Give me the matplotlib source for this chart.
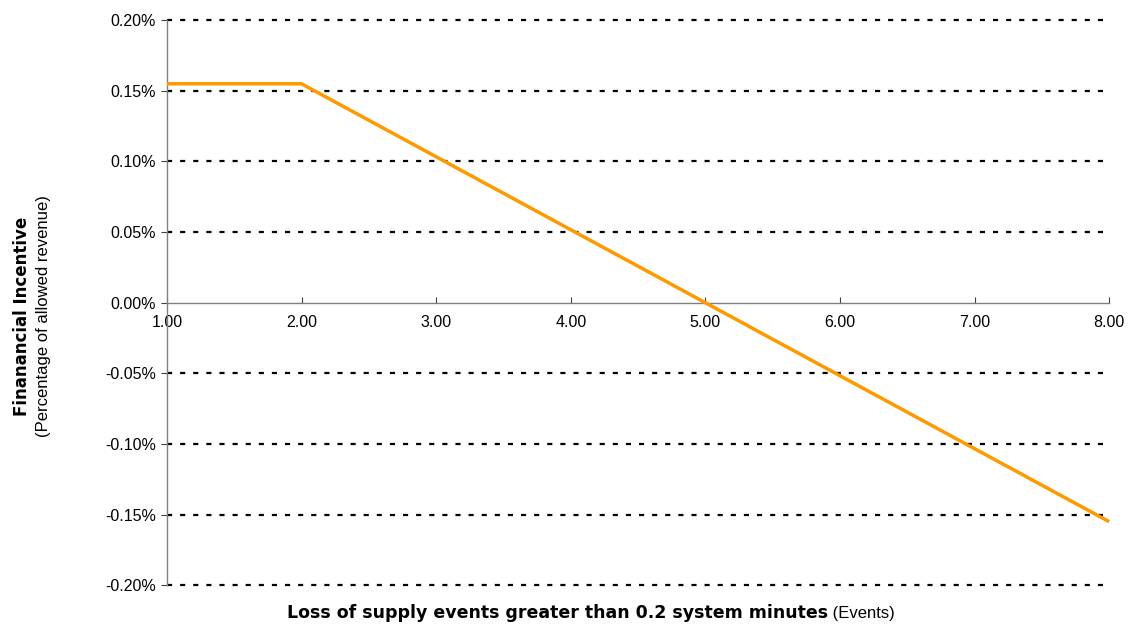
import matplotlib.pyplot as plt
from matplotlib.ticker import FuncFormatter

plt.rcParams['font.family'] = ['Liberation Sans', 'DejaVu Sans']

# Incentive curve: events vs. percentage of allowed revenue
events = [1.0, 2.0, 8.0]
incentive = [0.155, 0.155, -0.155]

x_ticks = [1, 2, 3, 4, 5, 6, 7, 8]
y_ticks = [-0.20, -0.15, -0.10, -0.05, 0.0, 0.05, 0.10, 0.15, 0.20]

fig = plt.figure(figsize=(11.38, 6.32), dpi=100)
ax = fig.add_axes([0.1467, 0.074, 0.828, 0.894])

for y in y_ticks:
    if y != 0:
        ax.axhline(y, xmin=0, xmax=0.995, color='black', linestyle=(0, (2.3, 3.6)),
                   linewidth=1.6, zorder=1, clip_on=False)

ax.plot(events, incentive, color='#FF9900', linewidth=2.5, zorder=3,
        solid_capstyle='butt', clip_on=False)

ax.set_xlim(1, 8)
ax.set_ylim(-0.20, 0.20)
ax.set_xticks(x_ticks)
ax.set_yticks(y_ticks)
ax.xaxis.set_major_formatter(FuncFormatter(lambda v, p: f'{v:.2f}'))
ax.yaxis.set_major_formatter(FuncFormatter(lambda v, p: f'{v:.2f}%'))

ax.spines['top'].set_visible(False)
ax.spines['right'].set_visible(False)
ax.spines['bottom'].set_position(('data', 0))
for s in ('left', 'bottom'):
    ax.spines[s].set_color('#808080')
    ax.spines[s].set_linewidth(1.0)

ax.tick_params(axis='both', labelsize=11.5, colors='black')
ax.tick_params(axis='x', direction='in', length=4, pad=9, color='#404040')
ax.tick_params(axis='y', direction='out', length=4, pad=4, color='#404040')

# axis titles
t1 = fig.text(0.49, 0.022, 'Loss of supply events greater than 0.2 system minutes',
              fontsize=12.5, fontweight='bold', family='DejaVu Sans',
              ha='center', va='baseline')
ax.annotate(' (Events)', xy=(1, 0.2), xycoords=t1, va='baseline', ha='left',
            fontsize=12)

fig.text(0.011, 0.50, 'Finanancial Incentive', rotation=90, fontsize=12,
         fontweight='bold', family='DejaVu Sans', ha='left', va='center')
fig.text(0.032, 0.50, '(Percentage of allowed revenue)', rotation=90,
         fontsize=12, ha='left', va='center')

fig.savefig('out.png', dpi=100)
